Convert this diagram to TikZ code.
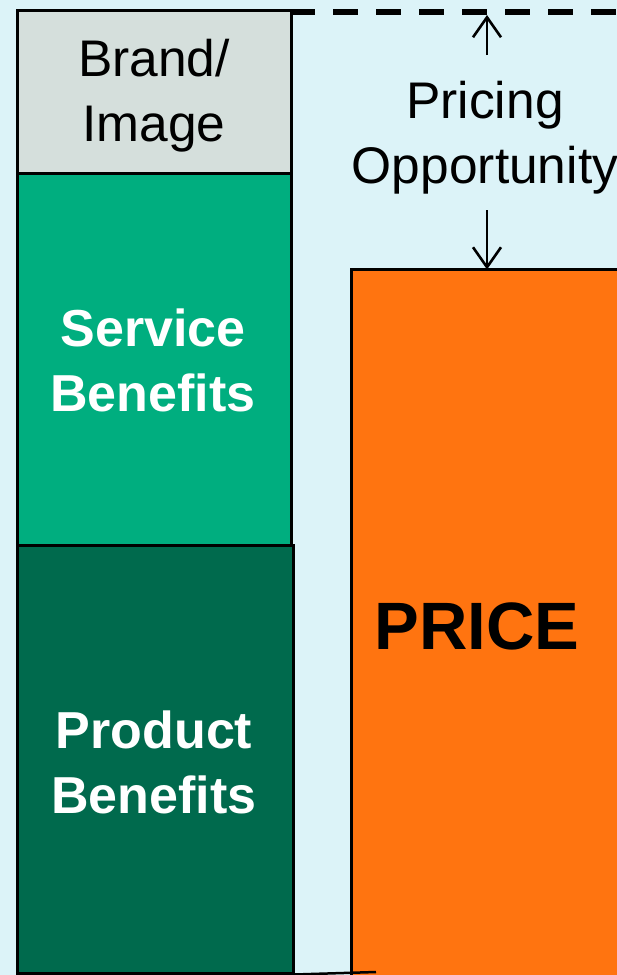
\documentclass[tikz,border=0pt]{standalone}
\usepackage{fontspec}
\setmainfont{Liberation Sans}
\usetikzlibrary{arrows.meta}
\definecolor{bgcyan}{HTML}{DCF3F8}
\definecolor{brandgrey}{HTML}{D5DFDC}
\definecolor{servicegreen}{HTML}{00AE7F}
\definecolor{productgreen}{HTML}{006A4D}
\definecolor{priceorange}{HTML}{FF7410}
\begin{document}
\begin{tikzpicture}[x=1pt,y=-1pt,
  block/.style={draw=black, line width=2.5pt, rectangle, inner sep=0pt, anchor=north west},
  lbl/.style={inner sep=0pt, align=center, font=\fontsize{51.5}{65}\selectfont},
  boldlbl/.style={lbl, text=white, font=\fontsize{52}{65}\selectfont\bfseries},
  gaparrow/.style={line width=2.6pt, -{Straight Barb[length=20pt,width=28pt,line width=2.6pt]}},
  ceiling/.style={line width=6pt, dash pattern=on 25pt off 18pt}]
  \useasboundingbox (0,0) rectangle (617,975);
  \clip (0,0) rectangle (617,975);
  \fill[bgcyan] (0,0) rectangle (617,975);

  % stacked value column
  \node[block, fill=brandgrey, minimum width=274pt, minimum height=163pt] (brand) at (16,9) {};
  \node[block, fill=servicegreen, minimum width=274pt, minimum height=372pt] (service) at (16,172) {};
  \node[block, fill=productgreen, minimum width=276pt, minimum height=428pt] (product) at (16,544) {};

  % price column
  \node[block, fill=priceorange, minimum width=320pt, minimum height=740pt] (price) at (350,268) {};

  % base line under both columns
  \coordinate (baseend) at (376,972);
  \draw[line width=2.5pt] (product.south east) -- (baseend);

  % value ceiling
  \coordinate (dashstart) at (290,11.5);
  \coordinate (dashend) at (630,11.5);
  \draw[ceiling] (dashstart) -- (dashend);

  % labels
  \node[lbl] (brandtxt) at (154,95.5) {Brand/\\Image};
  \node[boldlbl] (servicetxt) at (153,360) {Service\\Benefits};
  \node[boldlbl] (producttxt) at (154,762) {Product\\Benefits};
  \node[inner sep=0pt, font=\fontsize{67}{70}\selectfont\bfseries] (pricetxt) at (477,626) {PRICE};
  \node[lbl] (gaptxt) at (485,138) {Pricing\\Opportunity};

  % gap arrows
  \coordinate (upfoot) at (487,55);
  \coordinate (uptip) at (487,15);
  \coordinate (downfoot) at (487,210);
  \draw[gaparrow] (upfoot) -- (uptip);
  \draw[gaparrow] (downfoot) -- ([yshift=-1.5pt]downfoot |- price.north);
\end{tikzpicture}
\end{document}
